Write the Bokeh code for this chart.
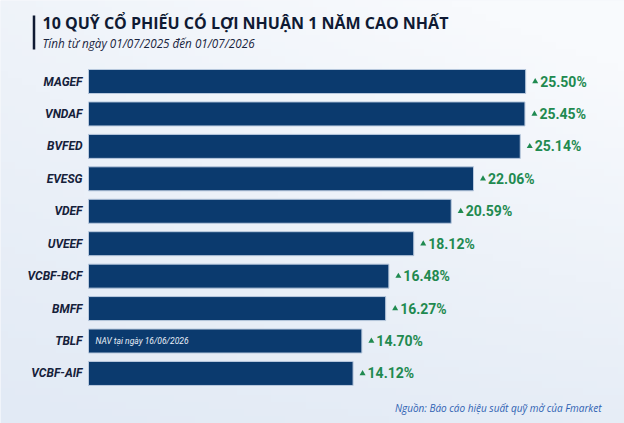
import numpy as np
from bokeh.plotting import figure
from bokeh.models import Range1d, ColumnDataSource
from bokeh.core.properties import value
from bokeh.embed import file_html
from bokeh.resources import INLINE

# ---- data ----
funds = ["MAGEF", "VNDAF", "BVFED", "EVESG", "VDEF", "UVEEF", "VCBF-BCF", "BMFF", "TBLF", "VCBF-AIF"]
returns = [25.50, 25.45, 25.14, 22.06, 20.59, 18.12, 16.48, 16.27, 14.70, 14.12]
title_text = "10 QUỸ CỔ PHIẾU CÓ LỢI NHUẬN 1 NĂM CAO NHẤT"
subtitle_text = "Tính từ ngày 01/07/2025 đến 01/07/2026"
note_text = "NAV tại ngày 16/06/2026"
note_fund = "TBLF"
source_text = "Nguồn: Báo cáo hiệu suất quỹ mở của Fmarket"

# ---- layout helpers (screen px -> data) ----
OFF = 0
W, H = 624, 423
SCALE = 15.17        # px per percentage point
BASE = -3.32         # value at the bars' left edge
BAR_LEFT_PX = 88
ROW0_PX = 81
ROW_STEP = 32.44

def sx(px):
    return BASE + (px - BAR_LEFT_PX) / SCALE

def sy(py):
    return (py - ROW0_PX) / ROW_STEP

rows = list(range(len(funds)))
vals = np.array(returns)
labels = ["%.2f%%" % v for v in returns]

src = ColumnDataSource(dict(
    y=rows, v=vals, fund=funds, lab=labels,
    tri=vals + 9.5 / SCALE, txt=vals + 14.5 / SCALE,
))

BG = "#edf2f9"
x0, x1 = sx(OFF), sx(OFF + W)
y_bot, y_top = sy(OFF + H), sy(OFF)
p = figure(width=W, height=H, output_backend="svg", toolbar_location=None,
           x_range=Range1d(x0, x1), y_range=Range1d(y_bot, y_top),
           min_border=0, background_fill_color=BG, border_fill_color=BG,
           outline_line_color=None)
p.axis.visible = False
p.grid.visible = False

# background gradient (decorative)
gh, gw = 60, 90
u = np.linspace(0, 1, gw)[None, :]
t = np.linspace(1, 0, gh)[:, None]   # row 0 drawn at top -> t = 1 (top)
light = np.clip(0.55 * u + 0.6 * t - 0.35 * (u * (1 - t)), 0, 1)
dark = np.array([226, 234, 245]); lite = np.array([248, 250, 253])
rgb = dark[None, None, :] + (lite - dark)[None, None, :] * light[:, :, None]
img = np.empty((gh, gw), dtype=np.uint32)
view = img.view(dtype=np.uint8).reshape((gh, gw, 4))
view[:, :, 0] = rgb[:, :, 0]; view[:, :, 1] = rgb[:, :, 1]; view[:, :, 2] = rgb[:, :, 2]
view[:, :, 3] = 255
p.image_rgba(image=[img], x=x0, y=y_top, dw=x1 - x0, dh=y_bot - y_top)

p.hbar(y="y", left=BASE, right="v", height=0.74, source=src,
       fill_color="#0b3a6e", line_color="#b9c9de", line_width=1)

p.text(x=sx(82), y="y", text="fund", source=src, text_align="right", text_baseline="middle",
       text_font=value("Roboto"), text_font_style="bold italic", text_font_size="12px",
       text_color="#15213a")

p.scatter(x="tri", y="y", source=src, marker="triangle", size=6,
          fill_color="#1f8a50", line_color=None)
p.text(x="txt", y="y", text="lab", source=src, text_align="left", text_baseline="middle",
       text_font=value("Roboto"), text_font_style="bold", text_font_size="14px",
       text_color="#1f8a50")

# note inside TBLF bar
p.text(x=[sx(95)], y=[rows[funds.index(note_fund)]], text=[note_text], text_baseline="middle",
       text_font=value("Roboto"), text_font_style="italic", text_font_size="8.5px",
       text_color="#e8eef7")

# title block
p.segment(x0=[sx(33.5)], x1=[sx(33.5)], y0=[sy(15)], y1=[sy(49)], line_color="#0f1a33", line_width=2.5)
p.text(x=[sx(42)], y=[sy(22)], text=[title_text], text_baseline="middle",
       text_font=value("Open Sans"), text_font_style="bold", text_font_size="16px",
       text_color="#0f1a33")
p.text(x=[sx(42)], y=[sy(42)], text=[subtitle_text], text_baseline="middle",
       text_font=value("Open Sans"), text_font_style="italic", text_font_size="11.7px",
       text_color="#1a2540")

# source
p.text(x=[sx(601)], y=[sy(407)], text=[source_text], text_align="right", text_baseline="middle",
       text_font=value("Open Sans"), text_font_style="italic", text_font_size="10px",
       text_color="#2f62b3")

open("out.html", "w").write(file_html(p, INLINE))
